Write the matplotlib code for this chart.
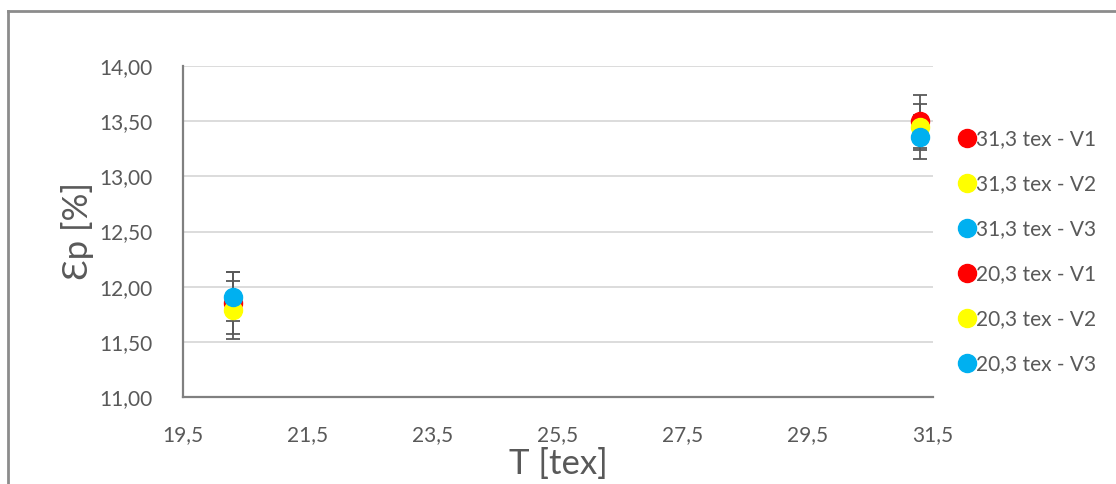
import matplotlib
matplotlib.use("Agg")
import matplotlib.pyplot as plt
from matplotlib.lines import Line2D
from matplotlib.ticker import FuncFormatter

plt.rcParams['font.family'] = ['Lato', 'Open Sans', 'DejaVu Sans']

# data
tex = [20.3, 31.3]
labels = ["31,3 tex - V1", "31,3 tex - V2", "31,3 tex - V3",
          "20,3 tex - V1", "20,3 tex - V2", "20,3 tex - V3"]
colors = ["#FF0000", "#FFFF00", "#00B0F0"]

eps_313 = [13.50, 13.45, 13.36]
err_313 = [0.24, 0.21, 0.20]
eps_203 = [11.85, 11.79, 11.91]
err_203 = [0.28, 0.26, 0.22]

xticks = [19.5, 21.5, 23.5, 25.5, 27.5, 29.5, 31.5]
yticks = [11.0, 11.5, 12.0, 12.5, 13.0, 13.5, 14.0]

txt = "#595959"
fig = plt.figure(figsize=(11.16, 4.84), dpi=100)
ax = fig.add_axes([183 / 1116, 1 - 397 / 484, 750 / 1116, 331 / 484])

# error bars first, then the points on top
for vals, errs, x in [(eps_203, err_203, tex[0]), (eps_313, err_313, tex[1])]:
    for v, e in zip(vals, errs):
        ax.errorbar(x, v, yerr=e, fmt="none", ecolor="#595959", elinewidth=1.3,
                    capsize=5, capthick=1.3, zorder=2)

for i, c in enumerate(colors):
    ax.plot(tex[1], eps_313[i], "o", ms=13, color=c, mec=c, zorder=3 + i)
    ax.plot(tex[0], eps_203[i], "o", ms=13, color=c, mec=c, zorder=3 + i)

ax.set_xlim(19.5, 31.5)
ax.set_ylim(11, 14)
ax.set_xticks(xticks)
ax.set_yticks(yticks)
ax.xaxis.set_major_formatter(FuncFormatter(lambda v, p: f"{v:.1f}".replace(".", ",")))
ax.yaxis.set_major_formatter(FuncFormatter(lambda v, p: f"{v:.2f}".replace(".", ",")))
ax.tick_params(axis="y", length=0, labelsize=15, labelcolor=txt, pad=22)
ax.tick_params(axis="x", length=0, labelsize=15, labelcolor=txt, pad=20)
ax.grid(axis="y", color="#D9D9D9", lw=1.3)
ax.set_axisbelow(True)
for s in ["top", "right"]:
    ax.spines[s].set_visible(False)
for s in ["left", "bottom"]:
    ax.spines[s].set_color("#808080")
    ax.spines[s].set_linewidth(1.6)

ax.set_xlabel("T [tex]", fontsize=25, color=txt, labelpad=2)
ax.set_ylabel("Ɛp [%]", fontsize=25, color=txt, labelpad=4)

handles = [Line2D([], [], ls="", marker="o", ms=13, color=c, mec=c)
           for c in colors + colors]
fig.legend(handles, labels, loc="upper left", bbox_to_anchor=(952 / 1116, 1 - 121 / 484),
           frameon=False, fontsize=15, labelcolor=txt, handlelength=0.6,
           handletextpad=0.15, labelspacing=1.2, borderaxespad=0)

# chart area frame (left and top edges)
fig.add_artist(Line2D([8 / 1116, 8 / 1116], [0, 1 - 11 / 484], transform=fig.transFigure,
                      color="#8C8C8C", lw=2))
fig.add_artist(Line2D([8 / 1116, 1], [1 - 11 / 484, 1 - 11 / 484], transform=fig.transFigure,
                      color="#8C8C8C", lw=2))

fig.savefig("out.png", dpi=100)
